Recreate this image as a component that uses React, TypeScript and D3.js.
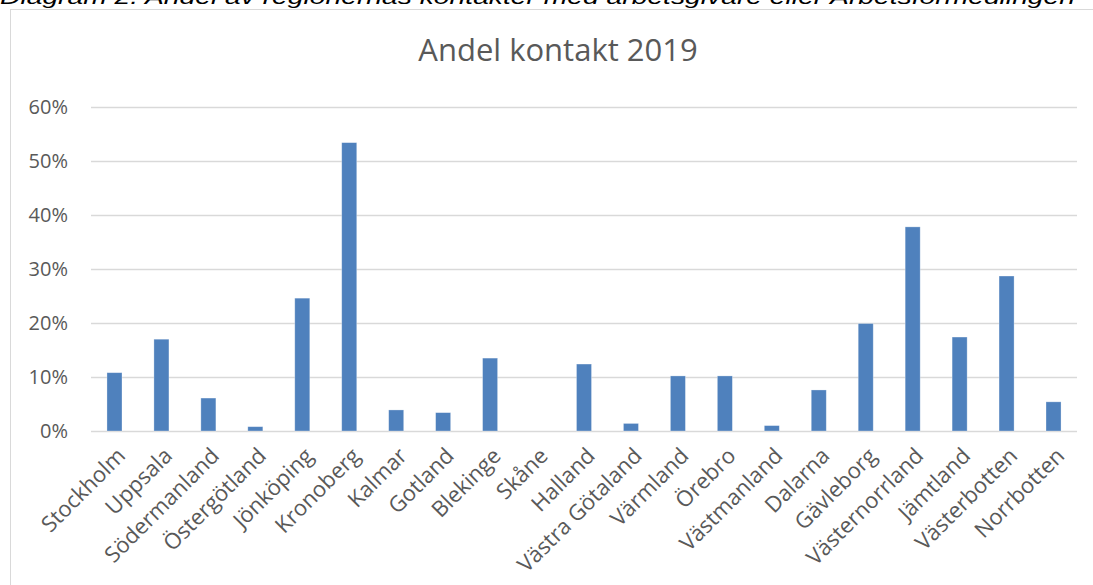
import React, { useEffect, useRef } from 'react';
import * as d3 from 'd3';

const regions = [
  'Stockholm', 'Uppsala', 'Södermanland', 'Östergötland', 'Jönköping', 'Kronoberg',
  'Kalmar', 'Gotland', 'Blekinge', 'Skåne', 'Halland', 'Västra Götaland', 'Värmland',
  'Örebro', 'Västmanland', 'Dalarna', 'Gävleborg', 'Västernorrland', 'Jämtland',
  'Västerbotten', 'Norrbotten',
];
const share2019 = [
  0.108, 0.170, 0.061, 0.008, 0.246, 0.534, 0.039, 0.034, 0.135, 0, 0.124, 0.014,
  0.102, 0.102, 0.010, 0.076, 0.199, 0.378, 0.174, 0.287, 0.054,
];
const yTicks = [0, 0.1, 0.2, 0.3, 0.4, 0.5, 0.6];
const chartTitle = 'Andel kontakt 2019';
const caption = 'Diagram 2. Andel av regionernas kontakter med arbetsgivare eller Arbetsförmedlingen';

export default function App() {
  const svgRef = useRef<SVGSVGElement>(null);

  useEffect(() => {
    if (!svgRef.current) return;
    const width = 1093;
    const height = 585;
    const svg = d3.select(svgRef.current);
    svg.selectAll('*').remove();
    svg.attr('width', width).attr('height', height);

    const margin = { left: 91, right: 16, top: 107, bottom: 154 };
    const font = "'Open Sans', sans-serif";
    const grey = '#595959';

    // caption cut off at the top of the page
    svg.append('text')
      .attr('x', 0)
      .attr('y', 4)
      .attr('textLength', 1075)
      .attr('lengthAdjust', 'spacingAndGlyphs')
      .style('font-family', "'Liberation Sans', Arial, sans-serif")
      .style('font-style', 'italic')
      .style('font-size', '21px')
      .style('fill', '#000')
      .text(caption);

    // chart frame (runs off the right and bottom)
    svg.append('rect')
      .attr('x', 10.5)
      .attr('y', 9.5)
      .attr('width', 1100)
      .attr('height', 600)
      .attr('fill', 'none')
      .attr('stroke', '#d9d9d9');

    const x = d3.scaleBand<string>()
      .domain(regions)
      .range([margin.left, width - margin.right])
      .paddingInner(0.68)
      .paddingOuter(0.34);

    const y = d3.scaleLinear()
      .domain([0, 0.6])
      .range([height - margin.bottom, margin.top]);

    // gridlines
    svg.append('g')
      .selectAll('line')
      .data(yTicks)
      .join('line')
      .attr('x1', margin.left)
      .attr('x2', width - margin.right)
      .attr('y1', d => Math.round(y(d)) + 0.5)
      .attr('y2', d => Math.round(y(d)) + 0.5)
      .attr('stroke', '#d9d9d9')
      .attr('stroke-width', 1.3);

    // y tick labels
    svg.append('g')
      .selectAll('text')
      .data(yTicks)
      .join('text')
      .attr('x', 68)
      .attr('y', d => y(d))
      .attr('dy', '0.36em')
      .attr('text-anchor', 'end')
      .style('font-family', font)
      .style('font-size', '20px')
      .style('fill', grey)
      .text(d => d3.format('.0%')(d));

    // bars
    svg.append('g')
      .selectAll('rect')
      .data(share2019)
      .join('rect')
      .attr('x', (d, i) => x(regions[i])!)
      .attr('y', d => y(d))
      .attr('width', x.bandwidth())
      .attr('height', d => y(0) - y(d))
      .attr('fill', '#4f81bd')
      .attr('stroke', '#ffffff')
      .attr('stroke-opacity', 0.4)
      .attr('stroke-width', 0.75);

    // x labels
    svg.append('g')
      .selectAll('text')
      .data(regions)
      .join('text')
      .attr('transform', d => `translate(${x(d)! + x.bandwidth() / 2 + 1},${y(0) + 15}) rotate(-45)`)
      .attr('dy', '0.72em')
      .attr('text-anchor', 'end')
      .style('font-family', font)
      .style('font-size', '22px')
      .style('fill', grey)
      .text(d => d);

    // title
    svg.append('text')
      .attr('x', 558)
      .attr('y', 61)
      .attr('text-anchor', 'middle')
      .style('font-family', font)
      .style('font-size', '31px')
      .style('fill', grey)
      .text(chartTitle);
  }, []);

  return (
    <div style={{ position: 'fixed', left: 0, top: 0, background: '#fff' }}>
      <svg ref={svgRef} style={{ display: 'block' }} />
    </div>
  );
}
